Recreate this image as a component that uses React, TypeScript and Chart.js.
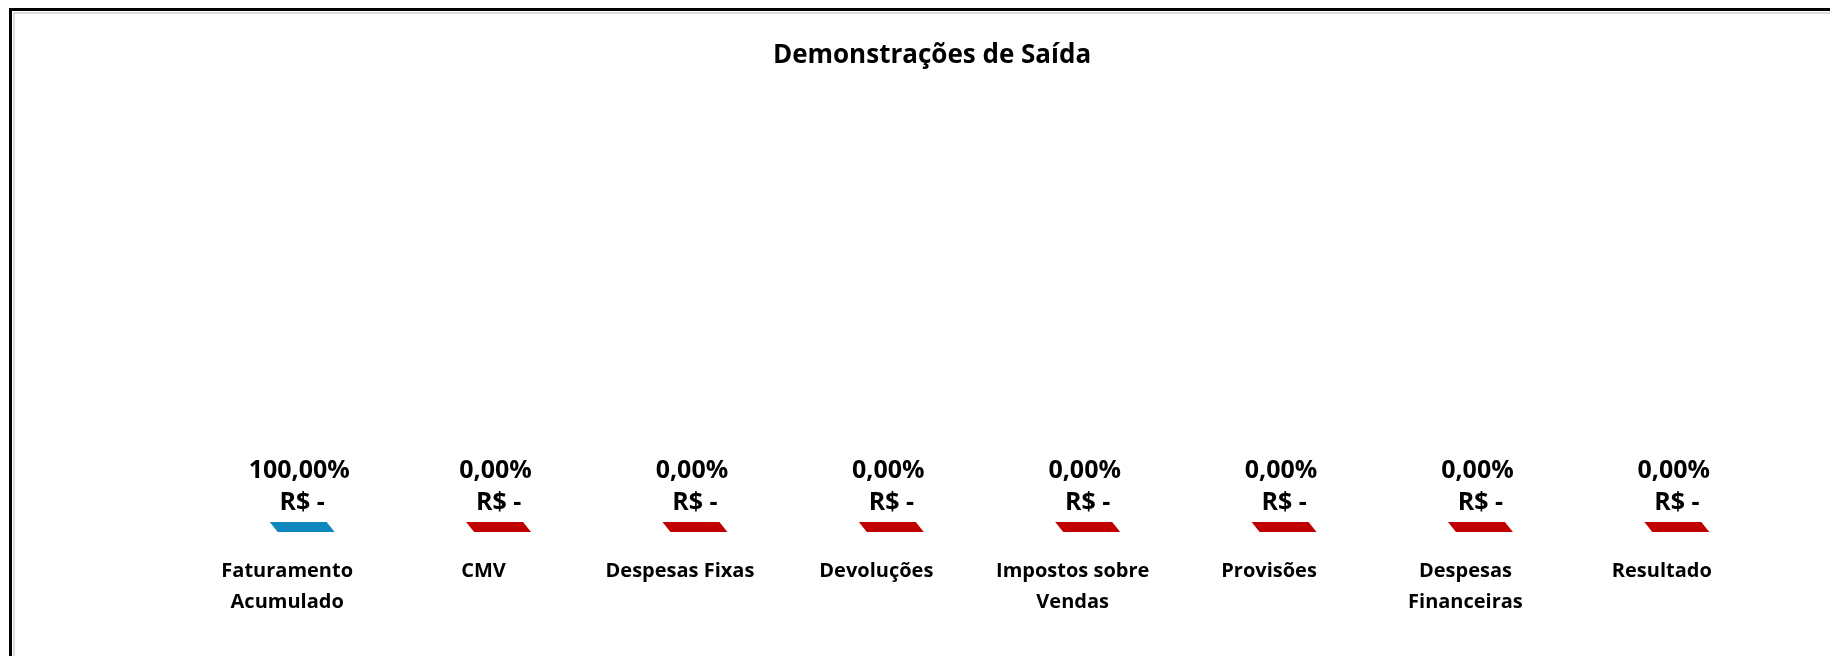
import React, { useEffect, useRef } from "react";
import { Chart, registerables } from "chart.js";

Chart.register(...registerables);

// ---- data ----
const titleText = "Demonstrações de Saída";
const categories: (string | string[])[] = [
  ["Faturamento", "Acumulado"],
  "CMV",
  "Despesas Fixas",
  "Devoluções",
  ["Impostos sobre", "Vendas"],
  "Provisões",
  ["Despesas", "Financeiras"],
  "Resultado",
];
const percentValues = [100, 0, 0, 0, 0, 0, 0, 0];
const amountValues = [0, 0, 0, 0, 0, 0, 0, 0];

// ---- style ----
const FONT = "'Open Sans', 'Noto Sans', sans-serif";
const BLUE = "#0F87BC";
const RED = "#C00000";
const CANVAS_W = 1834;
const CANVAS_H = 642;
const PLOT_BOTTOM = 513;

function fmtPct(v: number): string {
  const s = v.toFixed(2).replace(".", ",");
  return s + "%";
}
function fmtAmount(v: number): string {
  if (v === 0) return "R$ -";
  const parts = Math.abs(v).toFixed(2).split(".");
  const int = parts[0].replace(/\B(?=(\d{3})+(?!\d))/g, ".");
  return (v < 0 ? "-" : "") + "R$ " + int + "," + parts[1];
}

const facePlugin = {
  id: "face3d",
  afterDatasetsDraw(chart: any) {
    const meta = chart.getDatasetMeta(0);
    const ctx = chart.ctx as CanvasRenderingContext2D;
    const colors = chart.data.datasets[0].backgroundColor as string[];
    meta.data.forEach((bar: any, i: number) => {
      const { x, y, width } = bar.getProps(["x", "y", "width"], true);
      const half = width / 2;
      const skew = 4;
      const depth = 5;
      ctx.save();
      ctx.fillStyle = colors[i];
      ctx.beginPath();
      ctx.moveTo(x - half - skew, y - depth);
      ctx.lineTo(x + half - skew, y - depth);
      ctx.lineTo(x + half + skew, y + depth);
      ctx.lineTo(x - half + skew, y + depth);
      ctx.closePath();
      ctx.fill();

      ctx.fillStyle = "#000";
      ctx.font = `bold 25px ${FONT}`;
      ctx.textAlign = "center";
      ctx.textBaseline = "middle";
      ctx.fillText(fmtPct(percentValues[i]), x - 3, y - 56);
      ctx.fillText(fmtAmount(amountValues[i]), x, y - 24);
      ctx.restore();
    });
  },
};

export default function App() {
  const ref = useRef<HTMLCanvasElement | null>(null);

  useEffect(() => {
    document.documentElement.style.overflow = "hidden";
    document.body.style.overflow = "hidden";
    if (!ref.current) return;
    const chart = new Chart(ref.current, {
      type: "bar",
      data: {
        labels: categories,
        datasets: [
          {
            data: amountValues,
            backgroundColor: categories.map((_, i) => (i === 0 ? BLUE : RED)),
            borderWidth: 0,
            barPercentage: 0.29,
            categoryPercentage: 1,
          },
        ],
      },
      options: {
        responsive: false,
        animation: false,
        devicePixelRatio: 1,
        layout: { padding: 0 },
        plugins: {
          legend: { display: false },
          tooltip: { enabled: false },
          title: {
            display: true,
            text: titleText,
            color: "#000",
            font: { family: FONT, size: 26, weight: "bold", lineHeight: 1.2 },
            padding: { top: 26, bottom: 10 },
          },
        },
        scales: {
          x: {
            grid: { display: false, drawTicks: false },
            border: { display: false },
            ticks: {
              autoSkip: false,
              maxRotation: 0,
              minRotation: 0,
              padding: 29,
              labelOffset: -15,
              color: "#000",
              font: { family: FONT, size: 20, weight: "bold", lineHeight: 1.54 },
            },
            afterFit: (s: any) => {
              s.height = CANVAS_H - PLOT_BOTTOM;
            },
          },
          y: {
            min: 0,
            max: 1,
            grid: { display: false, drawTicks: false },
            border: { display: false },
            ticks: { display: false },
            afterFit: (s: any) => {
              s.width = 189;
            },
          },
          yRight: {
            type: "linear",
            position: "right",
            min: 0,
            max: 1,
            grid: { display: false, drawTicks: false },
            border: { display: false },
            ticks: { display: false },
            afterFit: (s: any) => {
              s.width = 74;
            },
          },
        },
      } as any,
      plugins: [facePlugin],
    });
    return () => chart.destroy();
  }, []);

  return (
    <div
      style={{
        marginLeft: 1,
        borderLeft: "3px solid #000",
        borderTop: "3px solid #000",
        paddingLeft: 1,
        paddingTop: 1,
        overflow: "hidden",
      }}
    >
      <div
        style={{
          borderLeft: "2px solid #dcdcdc",
          borderTop: "2px solid #dcdcdc",
          height: CANVAS_H,
          overflow: "hidden",
          background: "#fff",
        }}
      >
        <canvas
          ref={ref}
          width={CANVAS_W}
          height={CANVAS_H}
          style={{ display: "block", width: CANVAS_W, height: CANVAS_H }}
        />
      </div>
    </div>
  );
}
